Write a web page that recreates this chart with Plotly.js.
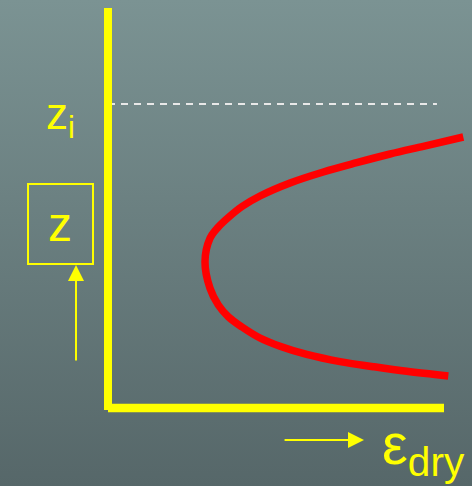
<!DOCTYPE html>
<html>
<head>
<meta charset="utf-8">
<script src="https://cdn.plot.ly/plotly-3.0.1.min.js"></script>
<style>
  html, body { margin: 0; padding: 0; }
  #chart { width: 472px; height: 486px; background: linear-gradient(#7b9393, #566769); }
</style>
</head>
<body>
<div id="chart"></div>
<script>
// Red curve: dry-air dissipation (epsilon_dry, x) against height (z, y), in axis units
const epsDry = [1.0574, 0.9384, 0.8393, 0.7402, 0.6408, 0.5417, 0.4524, 0.3988, 0.3580, 0.3283, 0.3036, 0.2887,
                0.3036, 0.3283, 0.3580, 0.3988, 0.4524, 0.5119, 0.5914, 0.6905, 0.7896, 0.8890, 1.0128];
const zHeight = [0.6775, 0.6543, 0.6350, 0.6133, 0.5900, 0.5625, 0.5300, 0.5038, 0.4763, 0.4525, 0.4243, 0.3658,
                 0.2993, 0.2575, 0.2283, 0.2025, 0.1750, 0.1543, 0.1338, 0.1158, 0.1033, 0.0918, 0.0800];
// Inversion height z_i
const ziLevel = [0.76];
// Labels
const labels = { zi: 'z<sub>i</sub>', z: 'z', eps: 'ε<sub>dry</sub>' };

const yellow = '#ffff00';
const font = 'Liberation Sans, Arial, sans-serif';

const data = [{
  x: epsDry, y: zHeight, type: 'scatter', mode: 'lines',
  line: { color: '#ff0000', width: 7.5, shape: 'spline', smoothing: 1, simplify: false },
  hoverinfo: 'skip', cliponaxis: false
}];

const layout = {
  width: 472, height: 486,
  margin: { l: 0, r: 0, t: 0, b: 0 },
  paper_bgcolor: 'rgba(0,0,0,0)', plot_bgcolor: 'rgba(0,0,0,0)',
  showlegend: false,
  xaxis: { range: [-108/336, 364/336], visible: false, fixedrange: true },
  yaxis: { range: [-78/400, 408/400], visible: false, fixedrange: true },
  shapes: [
    { type: 'line', xref: 'x', yref: 'y', x0: 0, x1: 0.979, y0: ziLevel[0], y1: ziLevel[0],
      line: { color: '#e8e8e8', width: 2, dash: '7px,6px' } },
    { type: 'line', xref: 'x', yref: 'y', x0: 0, x1: 0, y0: -0.005, y1: 1,
      line: { color: yellow, width: 8 } },
    { type: 'line', xref: 'x', yref: 'y', x0: 0, x1: 1, y0: 0, y1: 0,
      line: { color: yellow, width: 8.5 } },
    { type: 'rect', xref: 'x', yref: 'y', x0: -0.238, x1: -0.0446, y0: 0.36, y1: 0.56,
      line: { color: yellow, width: 2 }, fillcolor: 'rgba(0,0,0,0)' }
  ],
  annotations: [
    { xref: 'x', yref: 'y', x: -0.19, y: 0.728, xanchor: 'left', yanchor: 'middle',
      text: labels.zi, showarrow: false, font: { family: font, size: 44, color: yellow } },
    { xref: 'x', yref: 'y', x: -0.1414, y: 0.46, xanchor: 'center', yanchor: 'middle',
      text: labels.z, showarrow: false, font: { family: font, size: 48, color: yellow } },
    { xref: 'x', yref: 'y', x: 0.809, y: -0.10, xanchor: 'left', yanchor: 'middle',
      text: labels.eps, showarrow: false, font: { family: font, size: 58, color: yellow } },
    { xref: 'x', yref: 'y', x: -0.0952, y: 0.3575, axref: 'x', ayref: 'y', ax: -0.0952, ay: 0.115,
      text: '', showarrow: true, arrowhead: 2, arrowsize: 1.6, arrowwidth: 2, arrowcolor: yellow, standoff: 0 },
    { xref: 'x', yref: 'y', x: 0.762, y: -0.08, axref: 'x', ayref: 'y', ax: 0.521, ay: -0.08,
      text: '', showarrow: true, arrowhead: 2, arrowsize: 1.6, arrowwidth: 2, arrowcolor: yellow, standoff: 0 }
  ]
};

Plotly.newPlot('chart', data, layout, { staticPlot: true, displayModeBar: false });
</script>
</body>
</html>
